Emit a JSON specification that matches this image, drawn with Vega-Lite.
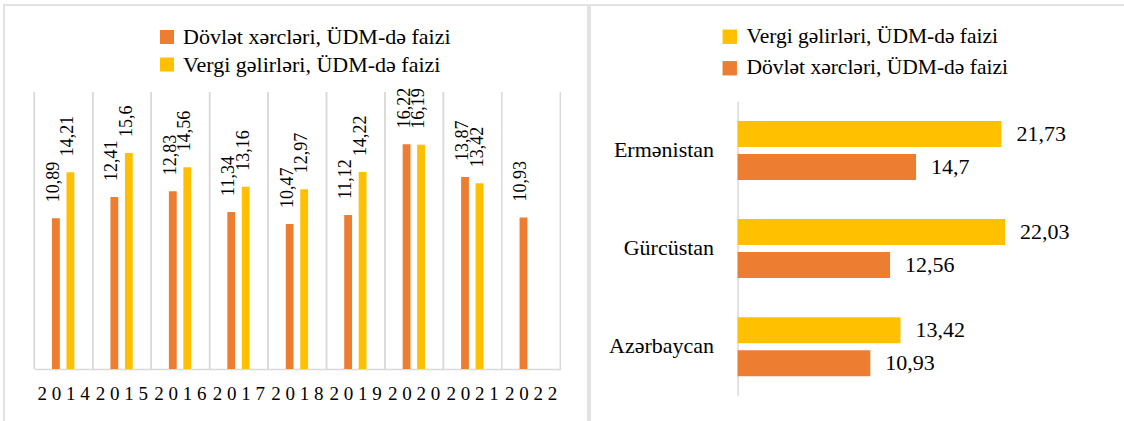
{
  "$schema": "https://vega.github.io/schema/vega-lite/v6.json",
  "padding": {"left": 3, "top": 4, "right": 0, "bottom": 0},
  "spacing": 0,
  "config": {
    "font": "Liberation Serif",
    "view": {"stroke": "#d9d9d9", "strokeWidth": 1.5},
    "locale": {"number": {"decimal": ",", "thousands": " ", "grouping": [3], "currency": ["", ""]}},
    "axis": {"labelColor": "#000000", "titleColor": "#000000", "labelFont": "Liberation Serif"},
    "legend": {"labelColor": "#000000", "labelFont": "Liberation Serif"},
    "text": {"font": "Liberation Serif"}
  },
  "datasets": {
    "years": [
      {"year": "2014", "series": "Dövlət xərcləri, ÜDM-də faizi", "value": 10.89},
      {"year": "2014", "series": "Vergi gəlirləri, ÜDM-də faizi", "value": 14.21},
      {"year": "2015", "series": "Dövlət xərcləri, ÜDM-də faizi", "value": 12.41},
      {"year": "2015", "series": "Vergi gəlirləri, ÜDM-də faizi", "value": 15.6},
      {"year": "2016", "series": "Dövlət xərcləri, ÜDM-də faizi", "value": 12.83},
      {"year": "2016", "series": "Vergi gəlirləri, ÜDM-də faizi", "value": 14.56},
      {"year": "2017", "series": "Dövlət xərcləri, ÜDM-də faizi", "value": 11.34},
      {"year": "2017", "series": "Vergi gəlirləri, ÜDM-də faizi", "value": 13.16},
      {"year": "2018", "series": "Dövlət xərcləri, ÜDM-də faizi", "value": 10.47},
      {"year": "2018", "series": "Vergi gəlirləri, ÜDM-də faizi", "value": 12.97},
      {"year": "2019", "series": "Dövlət xərcləri, ÜDM-də faizi", "value": 11.12},
      {"year": "2019", "series": "Vergi gəlirləri, ÜDM-də faizi", "value": 14.22},
      {"year": "2020", "series": "Dövlət xərcləri, ÜDM-də faizi", "value": 16.22},
      {"year": "2020", "series": "Vergi gəlirləri, ÜDM-də faizi", "value": 16.19},
      {"year": "2021", "series": "Dövlət xərcləri, ÜDM-də faizi", "value": 13.87},
      {"year": "2021", "series": "Vergi gəlirləri, ÜDM-də faizi", "value": 13.42},
      {"year": "2022", "series": "Dövlət xərcləri, ÜDM-də faizi", "value": 10.93}
    ],
    "countries": [
      {"country": "Ermənistan", "series": "Vergi gəlirləri, ÜDM-də faizi", "value": 21.73},
      {"country": "Ermənistan", "series": "Dövlət xərcləri, ÜDM-də faizi", "value": 14.7},
      {"country": "Gürcüstan", "series": "Vergi gəlirləri, ÜDM-də faizi", "value": 22.03},
      {"country": "Gürcüstan", "series": "Dövlət xərcləri, ÜDM-də faizi", "value": 12.56},
      {"country": "Azərbaycan", "series": "Vergi gəlirləri, ÜDM-də faizi", "value": 13.42},
      {"country": "Azərbaycan", "series": "Dövlət xərcləri, ÜDM-də faizi", "value": 10.93}
    ]
  },
  "resolve": {"scale": {"color": "independent"}, "legend": {"color": "independent"}},
  "hconcat": [
    {
      "width": 584,
      "height": 417,
      "data": {"name": "years"},
      "encoding": {
        "x": {
          "field": "year", "type": "nominal",
          "scale": {"range": [30.3, 556.3], "paddingInner": 0, "paddingOuter": 0},
          "axis": {
            "title": null, "grid": false,
            "domainColor": "#d9d9d9", "domainWidth": 1.5, "ticks": false, "offset": -53,
            "labelAngle": 0, "labelFontSize": 19, "labelPadding": 15,
            "labelExpr": "join(split(datum.label, ''), ' ') + ' '"
          }
        },
        "y": {
          "field": "value", "type": "quantitative",
          "scale": {"domain": [0, 20], "range": [364, 87]},
          "axis": null
        }
      },
      "layer": [
        {
          "mark": {"type": "rule", "color": "#d9d9d9", "strokeWidth": 1.5},
          "encoding": {
            "x": {"field": "year", "type": "nominal", "bandPosition": 0},
            "y": {"datum": 0},
            "y2": {"datum": 20}
          }
        },
        {
          "transform": [{"filter": "datum.year == '2022'"}],
          "mark": {"type": "rule", "color": "#d9d9d9", "strokeWidth": 1.5},
          "encoding": {
            "x": {"field": "year", "type": "nominal", "bandPosition": 1},
            "y": {"datum": 0},
            "y2": {"datum": 20}
          }
        },
        {
          "mark": {"type": "bar"},
          "encoding": {
            "xOffset": {
              "field": "series", "type": "nominal",
              "scale": {"domain": ["Dövlət xərcləri, ÜDM-də faizi", "Vergi gəlirləri, ÜDM-də faizi"], "range": [17.7, 40], "paddingInner": 0.46, "paddingOuter": 0}
            },
            "color": {
              "field": "series", "type": "nominal",
              "scale": {"domain": ["Dövlət xərcləri, ÜDM-də faizi", "Vergi gəlirləri, ÜDM-də faizi"], "range": ["#ED7D31", "#FFC000"]},
              "legend": {
                "title": null, "orient": "none", "legendX": 152, "legendY": 21, "direction": "vertical",
                "symbolType": "square", "symbolSize": 196, "labelFontSize": 22, "labelOffset": 5,
                "rowPadding": 5.5, "labelLimit": 450
              }
            }
          }
        },
        {
          "mark": {"type": "text", "angle": 270, "align": "left", "baseline": "middle", "dx": 16, "dy": -2, "fontSize": 18, "color": "#000000"},
          "encoding": {
            "xOffset": {
              "field": "series", "type": "nominal",
              "scale": {"domain": ["Dövlət xərcləri, ÜDM-də faizi", "Vergi gəlirləri, ÜDM-də faizi"], "range": [17.7, 40], "paddingInner": 0.46, "paddingOuter": 0}
            },
            "text": {"field": "value", "type": "quantitative", "format": "~g"}
          }
        }
      ]
    },
    {
      "width": 536,
      "height": 417,
      "data": {"name": "countries"},
      "encoding": {
        "y": {
          "field": "country", "type": "nominal", "sort": ["Ermənistan", "Gürcüstan", "Azərbaycan"],
          "scale": {"range": [96, 390.3], "paddingInner": 0, "paddingOuter": 0},
          "axis": {
            "title": null, "offset": -147.6, "ticks": false, "grid": false,
            "domainColor": "#d9d9d9", "domainWidth": 1.5, "labelFontSize": 22, "labelPadding": 24
          }
        },
        "yOffset": {
          "field": "series", "type": "nominal",
          "scale": {"domain": ["Vergi gəlirləri, ÜDM-də faizi", "Dövlət xərcləri, ÜDM-də faizi"], "range": [20, 79], "paddingInner": 0.212, "paddingOuter": 0}
        },
        "x": {
          "field": "value", "type": "quantitative",
          "scale": {"domain": [0, 25], "range": [147.6, 451.1]},
          "axis": null
        }
      },
      "layer": [
        {
          "mark": {"type": "bar"},
          "encoding": {
            "color": {
              "field": "series", "type": "nominal",
              "scale": {"domain": ["Vergi gəlirləri, ÜDM-də faizi", "Dövlət xərcləri, ÜDM-də faizi"], "range": ["#FFC000", "#ED7D31"]},
              "legend": {
                "title": null, "orient": "none", "legendX": 129, "legendY": 21, "direction": "vertical",
                "symbolType": "square", "symbolSize": 207, "labelFontSize": 21.5, "labelOffset": 6,
                "rowPadding": 8.5, "labelLimit": 450
              }
            }
          }
        },
        {
          "mark": {"type": "text", "align": "left", "baseline": "middle", "dx": 15, "fontSize": 22, "color": "#000000"},
          "encoding": {"text": {"field": "value", "type": "quantitative", "format": "~g"}}
        }
      ]
    }
  ]
}
